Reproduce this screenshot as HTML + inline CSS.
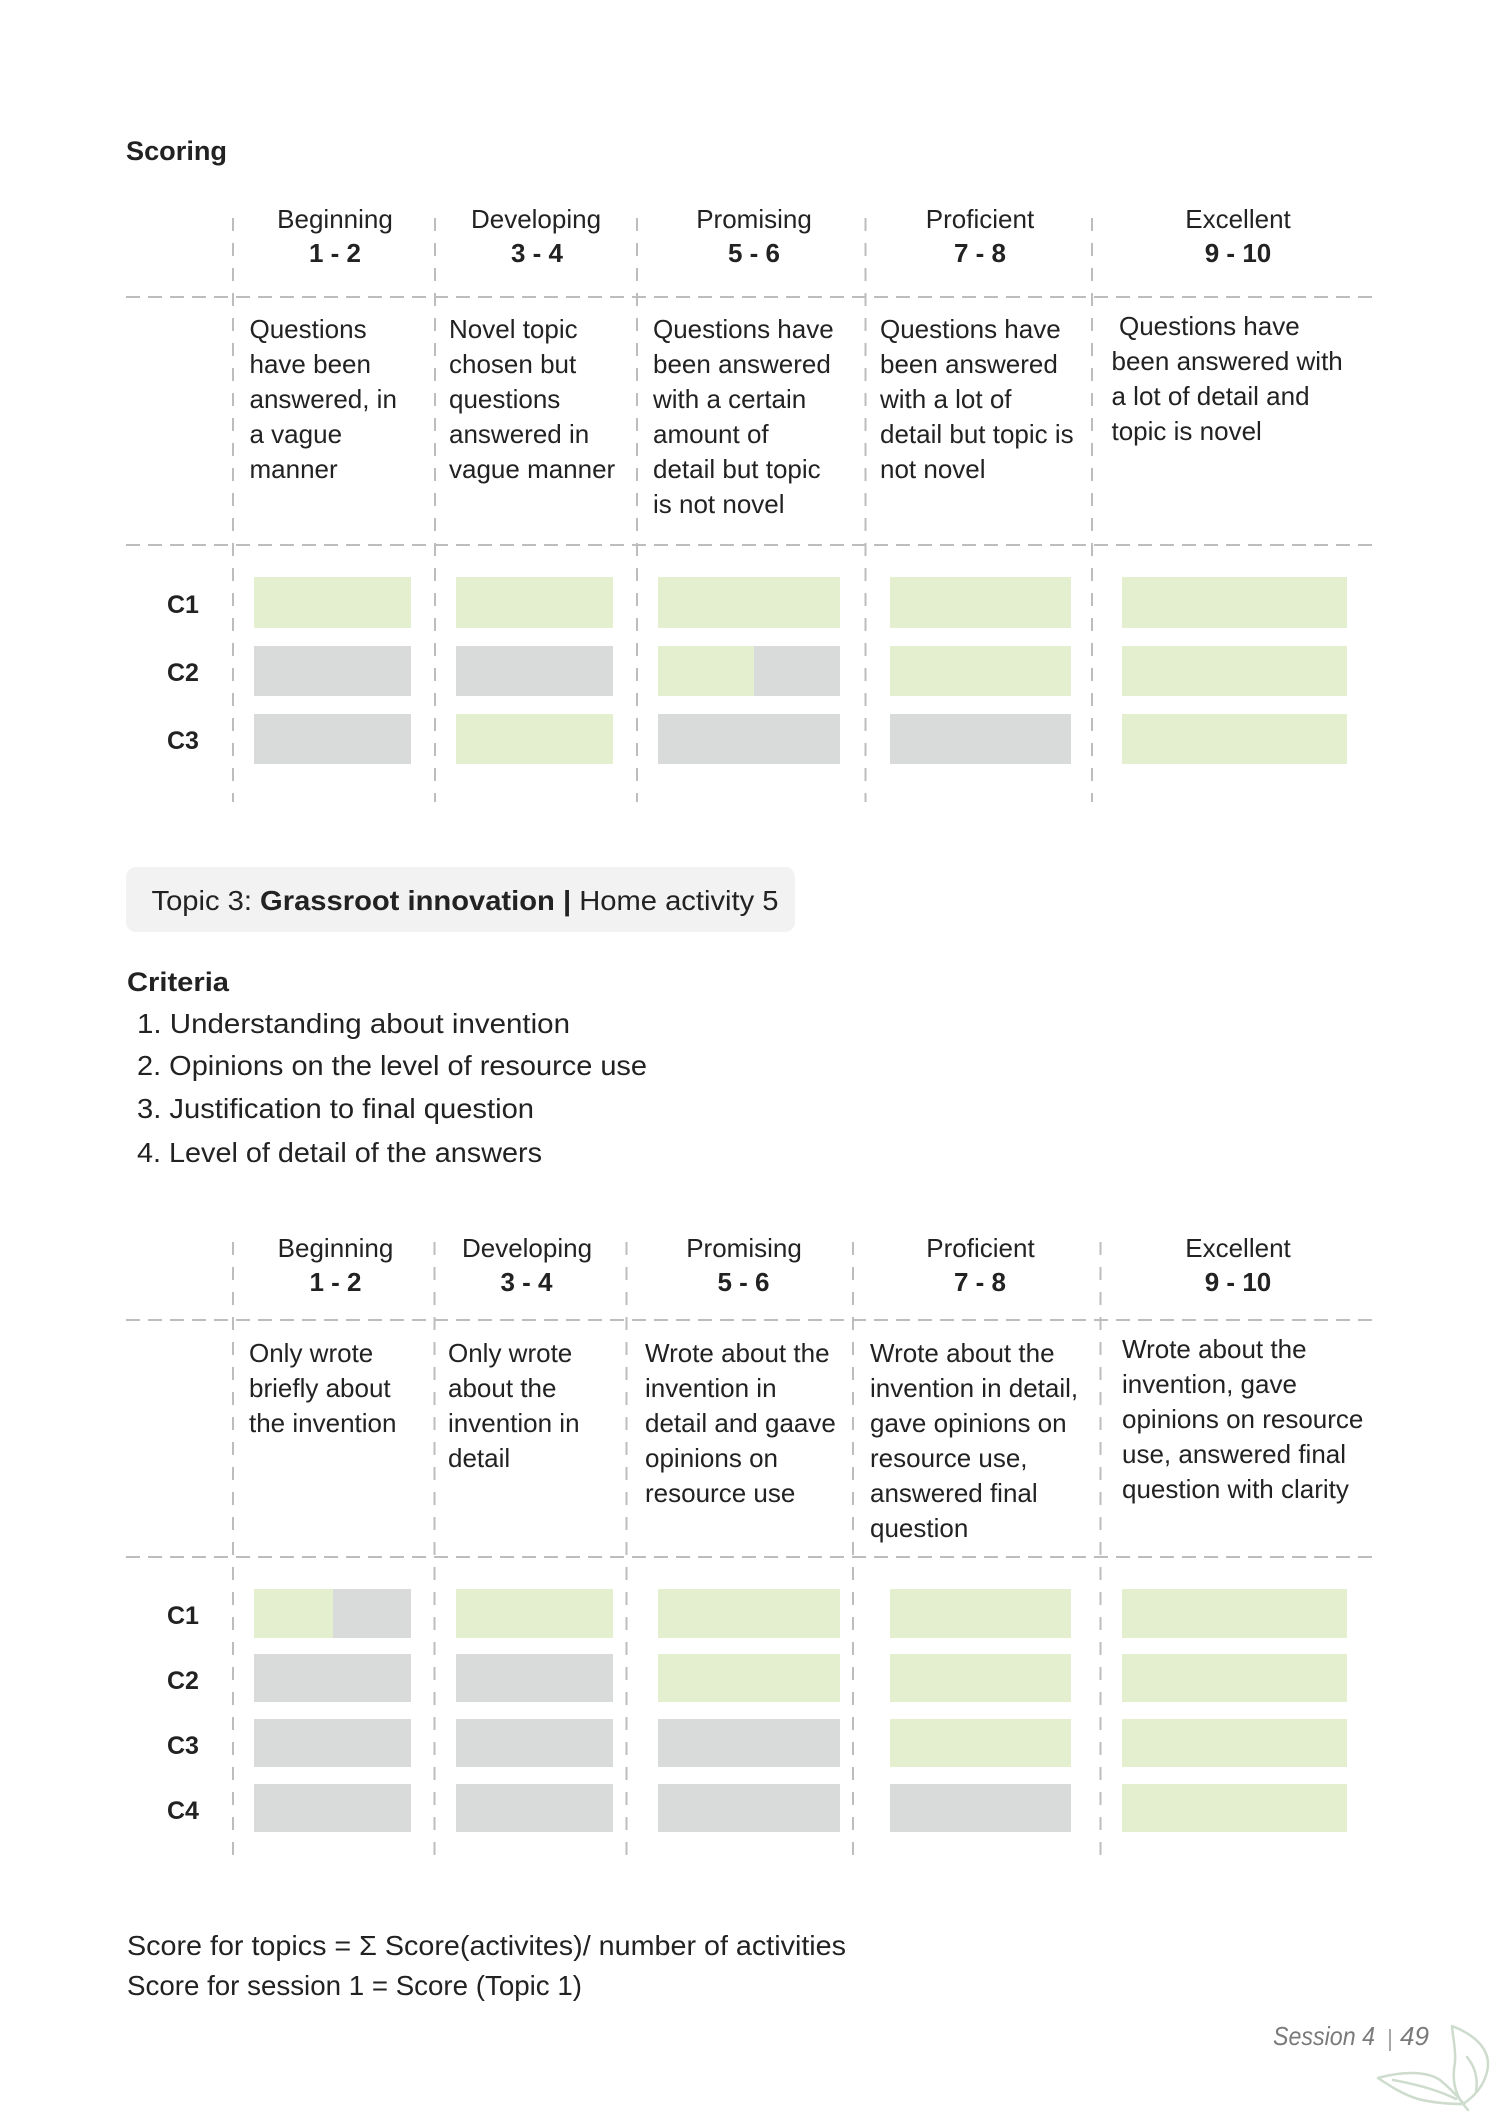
<!DOCTYPE html>
<html><head><meta charset="utf-8"><style>
html,body{margin:0;padding:0;background:#fff;}
svg{display:block;}
text{font-family:"Liberation Sans",Arial,sans-serif;fill:#222;}
.h{font-size:26px;}
.b{font-weight:bold;}
.d{font-size:26px;}
</style></head><body>
<svg width="1500" height="2123" viewBox="0 0 1500 2123" xmlns="http://www.w3.org/2000/svg">
<!-- Scoring -->
<text x="126" y="160" class="b" font-size="27" textLength="101" lengthAdjust="spacingAndGlyphs">Scoring</text>

<!-- Table 1 lines -->
<g stroke="#bdbdbd" stroke-width="2" fill="none">
<line x1="126" y1="297" x2="1375" y2="297" stroke-dasharray="14 8"/>
<line x1="126" y1="545" x2="1375" y2="545" stroke-dasharray="14 8"/>
<line x1="233" y1="218" x2="233" y2="802" stroke-dasharray="13 12"/>
<line x1="435" y1="218" x2="435" y2="802" stroke-dasharray="13 12"/>
<line x1="637" y1="218" x2="637" y2="802" stroke-dasharray="13 12"/>
<line x1="865.5" y1="218" x2="865.5" y2="802" stroke-dasharray="13 12"/>
<line x1="1092" y1="218" x2="1092" y2="802" stroke-dasharray="13 12"/>
</g>
<!-- Table 1 headers -->
<g text-anchor="middle" class="h">
<text x="335" y="228" class="h">Beginning</text>
<text x="536" y="228" class="h">Developing</text>
<text x="754" y="228" class="h">Promising</text>
<text x="980" y="228" class="h">Proficient</text>
<text x="1238" y="228" class="h">Excellent</text>
<text x="335" y="262" class="h b">1 - 2</text>
<text x="537" y="262" class="h b">3 - 4</text>
<text x="754" y="262" class="h b">5 - 6</text>
<text x="980" y="262" class="h b">7 - 8</text>
<text x="1238" y="262" class="h b">9 - 10</text>
</g>
<!-- Table 1 descriptions -->
<g class="d">
<text x="249.5" y="338" class="d">Questions</text>
<text x="249.5" y="373" class="d">have been</text>
<text x="249.5" y="408" class="d">answered, in</text>
<text x="249.5" y="443" class="d">a vague</text>
<text x="249.5" y="478" class="d">manner</text>

<text x="449" y="338" class="d">Novel topic</text>
<text x="449" y="373" class="d">chosen but</text>
<text x="449" y="408" class="d">questions</text>
<text x="449" y="443" class="d">answered in</text>
<text x="449" y="478" class="d">vague manner</text>

<text x="653" y="338" class="d">Questions have</text>
<text x="653" y="373" class="d">been answered</text>
<text x="653" y="408" class="d">with a certain</text>
<text x="653" y="443" class="d">amount of</text>
<text x="653" y="478" class="d">detail but topic</text>
<text x="653" y="513" class="d">is not novel</text>

<text x="880" y="338" class="d">Questions have</text>
<text x="880" y="373" class="d">been answered</text>
<text x="880" y="408" class="d">with a lot of</text>
<text x="880" y="443" class="d">detail but topic is</text>
<text x="880" y="478" class="d">not novel</text>

<text x="1119" y="335" class="d">Questions have</text>
<text x="1111.5" y="370" class="d">been answered with</text>
<text x="1111.5" y="405" class="d">a lot of detail and</text>
<text x="1111.5" y="440" class="d">topic is novel</text>
</g>
<!-- Table 1 row labels -->
<text x="167" y="613" class="b" font-size="25">C1</text>
<text x="167" y="681" class="b" font-size="25">C2</text>
<text x="167" y="749" class="b" font-size="25">C3</text>
<!-- Table 1 bars -->
<g>
<!-- C1 -->
<rect x="254" y="577" width="157" height="51" fill="#e4efcf"/>
<rect x="456" y="577" width="157" height="51" fill="#e4efcf"/>
<rect x="658" y="577" width="182" height="51" fill="#e4efcf"/>
<rect x="890" y="577" width="181" height="51" fill="#e4efcf"/>
<rect x="1122" y="577" width="225" height="51" fill="#e4efcf"/>
<!-- C2 -->
<rect x="254" y="646" width="157" height="50" fill="#d9dbdb"/>
<rect x="456" y="646" width="157" height="50" fill="#d9dbdb"/>
<rect x="658" y="646" width="182" height="50" fill="#d9dbdb"/>
<rect x="658" y="646" width="96" height="50" fill="#e4efcf"/>
<rect x="890" y="646" width="181" height="50" fill="#e4efcf"/>
<rect x="1122" y="646" width="225" height="50" fill="#e4efcf"/>
<!-- C3 -->
<rect x="254" y="714" width="157" height="50" fill="#d9dbdb"/>
<rect x="456" y="714" width="157" height="50" fill="#e4efcf"/>
<rect x="658" y="714" width="182" height="50" fill="#d9dbdb"/>
<rect x="890" y="714" width="181" height="50" fill="#d9dbdb"/>
<rect x="1122" y="714" width="225" height="50" fill="#e4efcf"/>
</g>

<!-- Topic box -->
<rect x="126" y="867" width="669" height="65" rx="10" ry="10" fill="#f2f2f2"/>
<text x="151.5" y="910" font-size="28" textLength="627" lengthAdjust="spacingAndGlyphs">Topic 3: <tspan font-weight="bold">Grassroot innovation</tspan> <tspan font-weight="bold">|</tspan> Home activity 5</text>

<!-- Criteria -->
<text x="127" y="991" class="b" font-size="27" textLength="102" lengthAdjust="spacingAndGlyphs">Criteria</text>
<text x="137" y="1033" font-size="28" textLength="433" lengthAdjust="spacingAndGlyphs">1. Understanding about invention</text>
<text x="137" y="1075" font-size="28" textLength="510" lengthAdjust="spacingAndGlyphs">2. Opinions on the level of resource use</text>
<text x="137" y="1118" font-size="28" textLength="397" lengthAdjust="spacingAndGlyphs">3. Justification to final question</text>
<text x="137" y="1162" font-size="28" textLength="405" lengthAdjust="spacingAndGlyphs">4. Level of detail of the answers</text>

<!-- Table 2 lines -->
<g stroke="#bdbdbd" stroke-width="2" fill="none">
<line x1="126" y1="1320" x2="1375" y2="1320" stroke-dasharray="14 8"/>
<line x1="126" y1="1557" x2="1375" y2="1557" stroke-dasharray="14 8"/>
<line x1="233" y1="1242" x2="233" y2="1855" stroke-dasharray="13 12"/>
<line x1="434.5" y1="1242" x2="434.5" y2="1855" stroke-dasharray="13 12"/>
<line x1="626.5" y1="1242" x2="626.5" y2="1855" stroke-dasharray="13 12"/>
<line x1="853" y1="1242" x2="853" y2="1855" stroke-dasharray="13 12"/>
<line x1="1100.5" y1="1242" x2="1100.5" y2="1855" stroke-dasharray="13 12"/>
</g>
<!-- Table 2 headers -->
<g text-anchor="middle">
<text x="335.5" y="1257" class="h">Beginning</text>
<text x="527" y="1257" class="h">Developing</text>
<text x="744" y="1257" class="h">Promising</text>
<text x="980.5" y="1257" class="h">Proficient</text>
<text x="1238" y="1257" class="h">Excellent</text>
<text x="335.5" y="1291" class="h b">1 - 2</text>
<text x="526.5" y="1291" class="h b">3 - 4</text>
<text x="743.5" y="1291" class="h b">5 - 6</text>
<text x="980" y="1291" class="h b">7 - 8</text>
<text x="1238" y="1291" class="h b">9 - 10</text>
</g>
<!-- Table 2 descriptions -->
<g>
<text x="249" y="1362" class="d">Only wrote</text>
<text x="249" y="1397" class="d">briefly about</text>
<text x="249" y="1432" class="d">the invention</text>

<text x="448" y="1362" class="d">Only wrote</text>
<text x="448" y="1397" class="d">about the</text>
<text x="448" y="1432" class="d">invention in</text>
<text x="448" y="1467" class="d">detail</text>

<text x="645" y="1362" class="d">Wrote about the</text>
<text x="645" y="1397" class="d">invention in</text>
<text x="645" y="1432" class="d">detail and gaave</text>
<text x="645" y="1467" class="d">opinions on</text>
<text x="645" y="1502" class="d">resource use</text>

<text x="870" y="1362" class="d">Wrote about the</text>
<text x="870" y="1397" class="d">invention in detail,</text>
<text x="870" y="1432" class="d">gave opinions on</text>
<text x="870" y="1467" class="d">resource use,</text>
<text x="870" y="1502" class="d">answered final</text>
<text x="870" y="1537" class="d">question</text>

<text x="1122" y="1358" class="d">Wrote about the</text>
<text x="1122" y="1393" class="d">invention, gave</text>
<text x="1122" y="1428" class="d">opinions on resource</text>
<text x="1122" y="1463" class="d">use, answered final</text>
<text x="1122" y="1498" class="d">question with clarity</text>
</g>
<!-- Table 2 row labels -->
<text x="167" y="1624" class="b" font-size="25">C1</text>
<text x="167" y="1689" class="b" font-size="25">C2</text>
<text x="167" y="1754" class="b" font-size="25">C3</text>
<text x="167" y="1819" class="b" font-size="25">C4</text>
<!-- Table 2 bars -->
<g>
<!-- C1 -->
<rect x="254" y="1589" width="157" height="49" fill="#d9dbdb"/>
<rect x="254" y="1589" width="79" height="49" fill="#e4efcf"/>
<rect x="456" y="1589" width="157" height="49" fill="#e4efcf"/>
<rect x="658" y="1589" width="182" height="49" fill="#e4efcf"/>
<rect x="890" y="1589" width="181" height="49" fill="#e4efcf"/>
<rect x="1122" y="1589" width="225" height="49" fill="#e4efcf"/>
<!-- C2 -->
<rect x="254" y="1654" width="157" height="48" fill="#d9dbdb"/>
<rect x="456" y="1654" width="157" height="48" fill="#d9dbdb"/>
<rect x="658" y="1654" width="182" height="48" fill="#e4efcf"/>
<rect x="890" y="1654" width="181" height="48" fill="#e4efcf"/>
<rect x="1122" y="1654" width="225" height="48" fill="#e4efcf"/>
<!-- C3 -->
<rect x="254" y="1719" width="157" height="48" fill="#d9dbdb"/>
<rect x="456" y="1719" width="157" height="48" fill="#d9dbdb"/>
<rect x="658" y="1719" width="182" height="48" fill="#d9dbdb"/>
<rect x="890" y="1719" width="181" height="48" fill="#e4efcf"/>
<rect x="1122" y="1719" width="225" height="48" fill="#e4efcf"/>
<!-- C4 -->
<rect x="254" y="1784" width="157" height="48" fill="#d9dbdb"/>
<rect x="456" y="1784" width="157" height="48" fill="#d9dbdb"/>
<rect x="658" y="1784" width="182" height="48" fill="#d9dbdb"/>
<rect x="890" y="1784" width="181" height="48" fill="#d9dbdb"/>
<rect x="1122" y="1784" width="225" height="48" fill="#e4efcf"/>
</g>

<!-- Footer formulas -->
<text x="127" y="1955" font-size="28" textLength="719" lengthAdjust="spacingAndGlyphs">Score for topics = Σ Score(activites)/ number of activities</text>
<text x="127" y="1995" font-size="28" textLength="455" lengthAdjust="spacingAndGlyphs">Score for session 1 = Score (Topic 1)</text>

<!-- Page footer -->
<text x="1273" y="2045" font-size="26" font-style="italic" fill="#7a7a7a" style="fill:#7a7a7a" textLength="102" lengthAdjust="spacingAndGlyphs">Session 4</text>
<line x1="1390" y1="2029" x2="1390" y2="2051" stroke="#8a8a8a" stroke-width="1.5"/>
<text x="1400" y="2045" font-size="26" font-style="italic" style="fill:#7a7a7a" textLength="29" lengthAdjust="spacingAndGlyphs">49</text>

<!-- Leaf icon -->
<g fill="none" stroke="#cddccd" stroke-width="2.5" stroke-linecap="round" stroke-linejoin="round">
<path d="M1452,2026 C1478,2036 1492,2052 1487,2072 C1483,2088 1472,2098 1463,2104 C1454,2092 1452,2078 1455,2062 C1456,2050 1453,2038 1452,2026 Z"/>
<path d="M1467,2057 C1476,2068 1478,2080 1476,2092"/>
<path d="M1378,2078 C1400,2072 1425,2070 1440,2080 C1450,2088 1458,2097 1464,2104 C1445,2104 1430,2102 1418,2099 C1402,2094 1390,2086 1378,2078 Z"/>
<path d="M1393,2080 C1415,2084 1438,2090 1456,2099"/>
<path d="M1463,2104 L1468,2110"/>
</g>
</svg>
</body></html>
